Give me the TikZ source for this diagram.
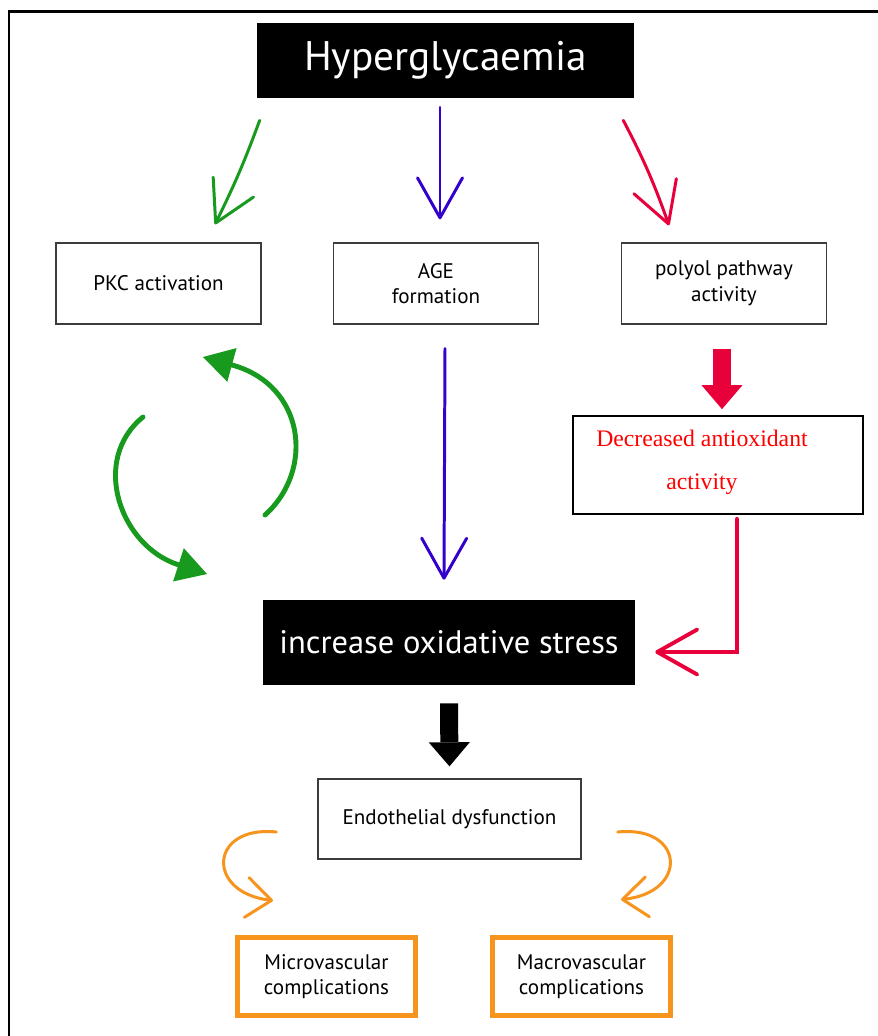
\documentclass[tikz,border=0pt]{standalone}
\usepackage{fontspec}
\setmainfont{PT Sans}
\newfontfamily\timesfont{Liberation Serif}
\usepackage{xcolor}
\usetikzlibrary{arrows.meta,positioning}

\definecolor{pkcgreen}{RGB}{24,154,30}
\definecolor{ageblue}{RGB}{51,0,204}
\definecolor{polyred}{RGB}{232,0,58}
\definecolor{comporange}{RGB}{247,148,29}
\definecolor{boxgray}{RGB}{60,60,60}

\begin{document}
\begin{tikzpicture}[
    x=0.02cm, y=-0.02cm,
    box/.style={draw=boxgray, line width=0.8pt, align=center, minimum width=4.1cm,
                minimum height=1.62cm, inner sep=0pt, font=\fontsize{12}{14.5}\selectfont},
    darkbox/.style={fill=black, text=white, align=center, inner sep=0pt},
    compbox/.style={draw=comporange, line width=2.8pt, align=center, minimum width=3.56cm,
                minimum height=1.56cm, inner sep=0pt, font=\fontsize{12}{14.5}\selectfont},
    barb/.style={-{Straight Barb[length=0.8cm,width=0.9cm,round]}, line width=1.7pt, line cap=round},
    smallbarb/.style={-{Straight Barb[length=0.5cm,width=0.8cm,round]}, line width=1.7pt,
                line cap=round, comporange},
    fatarrow/.style={-{Triangle[length=0.48cm,width=0.82cm,line width=0pt]}, line width=0.36cm},
    cyclearrow/.style={-{Triangle[length=0.6cm,width=0.7cm,line width=0pt]}, line width=2.8pt,
                line cap=round, pkcgreen}
]
  \useasboundingbox (0,0) rectangle (878,1036);
  \draw[line width=1.7pt] (9,1036) -- (9,11) -- (878,11);

  \node[darkbox, minimum width=7.54cm, minimum height=1.5cm,
        font=\fontsize{23.5}{27}\selectfont] (hyper) at (445.5,60.5) {Hyperglycaemia};
  \node[box] (pkc) at (158.5,283.5) {PKC activation};
  \node[box] (age) at (436,283.5) {AGE\\formation};
  \node[box] (polyol) at (724,283.5) {polyol pathway\\activity};
  \node[draw=black, line width=1pt, minimum width=5.8cm, minimum height=1.96cm] (dec) at (718,465) {};
  \node[text=red, align=center, font=\timesfont\fontsize{13.5}{24.4}\selectfont]
        (dectxt) at ([shift={(-16,-2.5)}]dec.center) {Decreased antioxidant\\activity};
  \node[darkbox, minimum width=7.44cm, minimum height=1.7cm,
        font=\fontsize{18.5}{22}\selectfont] (stress) at (449,642.5) {increase oxidative stress};
  \node[box, minimum width=5.26cm, minimum height=1.6cm] (endo) at (449.5,819) {Endothelial dysfunction};
  \node[compbox] (micro) at (326.5,976.5) {Microvascular\\complications};
  \node[compbox] (macro) at (581.5,976.5) {Macrovascular\\complications};

  % three pathways
  \draw[barb, pkcgreen] ([shift={(3,22)}]hyper.south west) to[bend left=3] ([shift={(56.5,-18)}]pkc.north);
  \draw[barb, ageblue] ([shift={(-5.5,9)}]hyper.south) -- ([shift={(4,-23)}]age.north);
  \draw[barb, polyred] ([shift={(-11,22)}]hyper.south east) to[bend left=4] ([shift={(-55,-17)}]polyol.north);

  % PKC cycle
  \coordinate (cycAs) at (265,515);
  \coordinate (cycAe) at (203,357);
  \coordinate (cycBs) at (143,417);
  \coordinate (cycBe) at (207,574);
  \draw[cyclearrow] (cycAs) .. controls +(50,-45) and +(102,28) .. (cycAe);
  \draw[cyclearrow] (cycBs) .. controls +(-53,43) and +(-87,-28) .. (cycBe);

  \draw[barb, ageblue] ([shift={(9,24)}]age.south) -- ([shift={(-5,-20)}]stress.north);
  \draw[fatarrow, polyred] ([shift={(-2,24)}]polyol.south) -- ([shift={(4,-6)}]dec.north);
  \draw[barb, polyred, line width=2.2pt] ([shift={(19,4)}]dec.south) |- ([shift={(20,9.5)}]stress.east);

  \draw[fatarrow, black] ([shift={(0,18)}]stress.south) -- ([shift={(0,-12)}]endo.north);

  % complications
  \draw[smallbarb] ([shift={(-41,13)}]endo.west) .. controls +(-67,-7) and +(-68,-8) .. ([shift={(-53.5,-34.5)}]micro.north);
  \draw[smallbarb] ([shift={(36,13)}]endo.east) .. controls +(67,-7) and +(68,-7) .. ([shift={(39.5,-35.5)}]macro.north);
\end{tikzpicture}
\end{document}
